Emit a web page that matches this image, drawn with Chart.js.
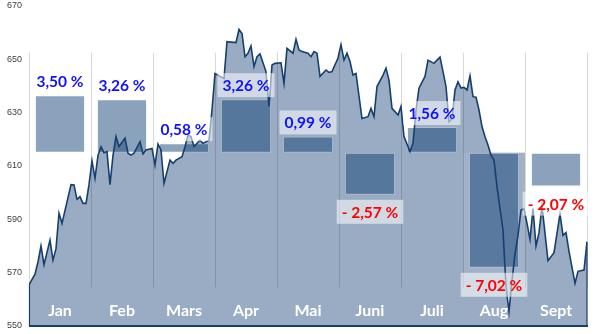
<!DOCTYPE html>
<html>
<head>
<meta charset="utf-8">
<script src="https://cdn.jsdelivr.net/npm/chart.js@4"></script>
<style>
  html, body { margin: 0; padding: 0; background: #fff; }
  #wrap { width: 599px; height: 334px; }
</style>
</head>
<body>
<div id="wrap"><canvas id="myChart"></canvas></div>
<script>
// Monatsbalken: Veränderung gegenüber dem Vormonat, ab Basis 615
const months = ['Jan', 'Feb', 'Mars', 'Apr', 'Mai', 'Juni', 'Juli', 'Aug', 'Sept'];
const monthChange = [3.50, 3.26, 0.58, 3.26, 0.99, -2.57, 1.56, -7.02, -2.07];
const basis = 615;

// Tageskurs (Handelstag, Schlusskurs)
const tradingDay = [
  0, 2, 3, 4, 5, 7, 8, 9, 10, 11, 14, 15, 16, 17, 18, 19, 20, 21, 22, 23,
  24, 25, 26, 27, 28, 29, 30, 32, 33, 34, 35, 37, 38, 39, 41, 42, 43, 44, 45, 47,
  48, 49, 51, 52, 53, 54, 55, 57, 58, 59, 60, 61, 62, 65, 66, 69, 70, 71, 72, 73,
  74, 75, 76, 77, 79, 80, 81, 82, 84, 85, 86, 88, 89, 90, 91, 93, 94, 95, 96, 97,
  99, 100, 101, 103, 104, 105, 106, 107, 108, 109, 111, 113, 114, 115, 116, 118, 119, 120, 121, 123,
  124, 125, 127, 128, 129, 130, 132, 133, 135, 136, 137, 138, 139, 140, 141, 142, 143, 144, 145, 146,
  147, 148, 149, 150, 151, 152, 153, 154, 155, 156, 158, 159, 160, 161, 162, 163, 164, 165, 166, 167,
  168, 169, 170, 171, 173, 175, 177, 178, 179, 180, 182, 183, 185, 186
];
const closePrice = [
  565.4, 569.4, 574.0, 580.0, 573.0, 582.2, 574.7, 579.0, 592.3, 588.5, 603.0, 602.9, 597.5, 598.5, 596.0, 596.0, 603.0, 612.0, 605.4, 614.0,
  617.2, 615.0, 615.4, 603.0, 614.0, 621.0, 617.3, 620.4, 614.8, 614.1, 614.8, 619.1, 614.5, 616.0, 616.6, 610.4, 618.2, 616.0, 603.5, 612.2,
  611.0, 612.2, 613.5, 617.2, 621.6, 621.0, 617.3, 619.7, 618.5, 619.1, 619.7, 631.0, 644.7, 642.8, 656.6, 656.3, 661.2, 659.7, 651.0, 652.3,
  655.0, 647.3, 651.0, 652.0, 645.4, 632.3, 647.9, 648.5, 648.7, 641.0, 654.1, 652.3, 657.5, 653.5, 652.9, 652.3, 651.0, 652.9, 652.3, 643.6,
  646.0, 645.1, 645.4, 650.5, 655.5, 649.7, 652.3, 649.2, 644.1, 644.7, 627.8, 628.5, 631.6, 628.5, 639.8, 644.1, 646.7, 642.2, 631.6, 629.1,
  632.3, 621.0, 615.4, 618.5, 631.0, 639.2, 643.6, 649.7, 648.5, 649.7, 650.8, 645.4, 639.8, 626.6, 627.8, 638.5, 641.6, 639.2, 639.5, 638.5,
  643.8, 636.0, 635.8, 631.0, 624.8, 621.0, 617.9, 614.1, 612.2, 602.2, 586.0, 564.7, 555.5, 567.0, 577.0, 584.0, 593.5, 594.0, 588.5, 582.5,
  594.0, 580.0, 585.0, 595.0, 574.5, 577.5, 592.0, 584.0, 585.0, 578.0, 566.0, 570.5, 571.0, 581.6
];
const yTicks = [550, 570, 590, 610, 630, 650, 670];

const series = tradingDay.map((d, i) => ({ x: d, y: closePrice[i] }));
const monthBars = monthChange.map(p => [basis, basis * (1 + p / 100)]);

const AREA = '#9aacc3';
const NAVY = '#163f6e';

function pctText(p) {
  return (p < 0 ? '- ' : '') + Math.abs(p).toFixed(2).replace('.', ',') + ' %';
}

const overlay = {
  id: 'overlay',
  afterDatasetDraw(chart, args) {
    if (args.index !== 0) return;
    const ctx = chart.ctx;
    const xm = chart.scales.xm, y = chart.scales.y;
    const area = chart.chartArea;
    const col = (area.right - area.left) / months.length;

    // heller Kasten hinter dem August-Balken
    const aug = months.indexOf('Aug');
    const augBar = chart.getDatasetMeta(1).data[aug];
    const augBottom = Math.max(augBar.y, augBar.base) + 29;
    ctx.save();
    ctx.fillStyle = '#a1b2c8';
    ctx.fillRect(xm.getPixelForValue(aug) - col / 2, y.getPixelForValue(basis), col, augBottom - y.getPixelForValue(basis));

    // Monatstrenner
    ctx.strokeStyle = 'rgba(0,0,0,0.15)';
    ctx.lineWidth = 1;
    const top = y.getPixelForValue(652.5), bottom = y.getPixelForValue(564.5);
    for (let i = 0; i <= months.length; i++) {
      const xp = Math.round(area.left + i * col) + 0.5;
      ctx.beginPath();
      ctx.moveTo(xp, top);
      ctx.lineTo(xp, bottom);
      ctx.stroke();
    }

    // Rand der Fläche: Grundlinie und seitliche Kanten
    const base = y.getPixelForValue(550);
    ctx.strokeStyle = NAVY;
    ctx.lineWidth = 2;
    ctx.beginPath();
    ctx.moveTo(area.left, base);
    ctx.lineTo(area.right + 1, base);
    ctx.stroke();
    ctx.lineWidth = 1.2;
    ctx.beginPath();
    ctx.moveTo(area.left + 0.5, y.getPixelForValue(closePrice[0]));
    ctx.lineTo(area.left + 0.5, base);
    ctx.moveTo(area.right, y.getPixelForValue(closePrice[closePrice.length - 1]));
    ctx.lineTo(area.right, base);
    ctx.stroke();
    ctx.restore();
  },
  afterDatasetsDraw(chart) {
    const ctx = chart.ctx;
    const xm = chart.scales.xm;
    const area = chart.chartArea;
    const bars = chart.getDatasetMeta(1).data;
    ctx.save();
    ctx.textAlign = 'center';
    ctx.textBaseline = 'middle';

    // Prozentangaben
    ctx.font = 'bold 15.5px Lato';
    monthChange.forEach((p, i) => {
      const b = bars[i];
      const barTop = Math.min(b.y, b.base), barBottom = Math.max(b.y, b.base);
      const cy = p >= 0 ? barTop - 14 : barBottom + 17;
      const txt = pctText(p);
      const w = ctx.measureText(txt).width + 10;
      ctx.fillStyle = 'rgba(255,255,255,0.55)';
      ctx.fillRect(b.x - w / 2, cy - 12, w, 24);
      ctx.fillStyle = p >= 0 ? '#1010ff' : '#ff0000';
      ctx.fillText(txt, b.x, cy + 1);
    });

    // Monatsnamen
    ctx.font = 'bold 16px Lato';
    ctx.fillStyle = '#ffffff';
    months.forEach((m, i) => {
      ctx.fillText(m, xm.getPixelForValue(i), area.bottom - 15);
    });
    ctx.restore();
  }
};

new Chart(document.getElementById('myChart').getContext('2d'), {
  type: 'bar',
  data: {
    labels: months,
    datasets: [
      {
        type: 'line',
        label: 'Fläche',
        data: series,
        xAxisID: 'x',
        yAxisID: 'y',
        fill: 'start',
        backgroundColor: AREA,
        borderWidth: 0,
        pointRadius: 0,
        tension: 0,
        order: 3
      },
      {
        type: 'bar',
        label: 'Monat',
        data: monthBars,
        xAxisID: 'xm',
        yAxisID: 'y',
        backgroundColor: 'rgba(11,61,113,0.48)',
        borderColor: 'rgba(255,255,255,0.2)',
        borderWidth: 1,
        borderSkipped: false,
        barPercentage: 0.81,
        categoryPercentage: 1,
        grouped: false,
        order: 2
      },
      {
        type: 'line',
        label: 'Kurs',
        data: series,
        xAxisID: 'x',
        yAxisID: 'y',
        fill: false,
        borderColor: NAVY,
        borderWidth: 1.6,
        pointRadius: 0,
        tension: 0,
        order: 1
      }
    ]
  },
  options: {
    responsive: true,
    maintainAspectRatio: false,
    animation: false,
    layout: { autoPadding: false, padding: { left: 0, right: 12, top: 6, bottom: 8 } },
    plugins: {
      legend: { display: false },
      tooltip: { enabled: false }
    },
    scales: {
      x: {
        type: 'linear',
        min: 0,
        max: tradingDay[tradingDay.length - 1],
        offset: false,
        display: false
      },
      xm: {
        type: 'category',
        labels: months,
        offset: true,
        display: false
      },
      y: {
        min: 550,
        max: 670,
        afterBuildTicks: s => { s.ticks = yTicks.map(v => ({ value: v })); },
        grid: { display: false, drawTicks: false },
        border: { display: false },
        ticks: {
          padding: 7,
          color: '#404040',
          font: { family: 'Liberation Sans', size: 9 }
        },
        afterFit: s => {
          s.width = 29;
          s.paddingTop = 0;
          s.paddingBottom = 0;
        }
      }
    }
  },
  plugins: [overlay]
});
</script>
</body>
</html>
